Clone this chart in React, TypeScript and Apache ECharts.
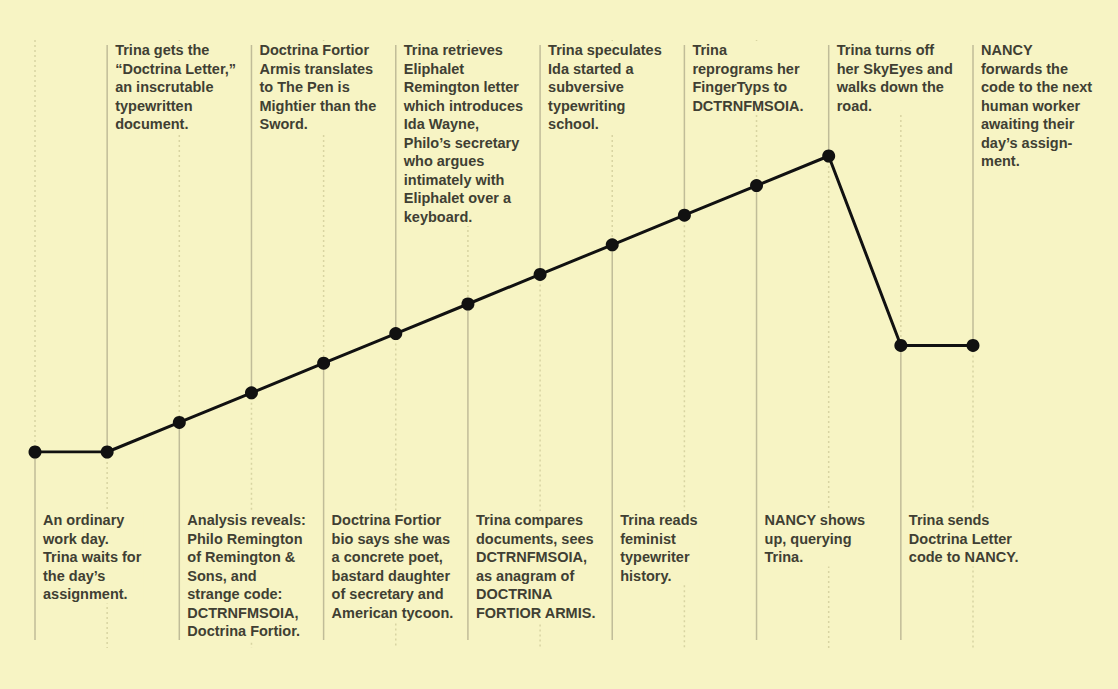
import React, { useEffect, useRef } from 'react';
import * as echarts from 'echarts';

// Story steps (category axis)
const steps = ['1', '2', '3', '4', '5', '6', '7', '8', '9', '10', '11', '12', '13', '14'];

// Narrative tension level at each step
const tension = [0, 0, 1, 2, 3, 4, 5, 6, 7, 8, 9, 10, 3.6, 3.6];

// Where each note sits relative to the line
const placement = ['below', 'above', 'below', 'above', 'below', 'above', 'below', 'above', 'below', 'above', 'below', 'above', 'below', 'above'];

// Annotation texts
const notes = [
  'An ordinary\nwork day.\nTrina waits for\nthe day\u2019s\nassignment.',
  'Trina gets the\n\u201cDoctrina Letter,\u201d\nan inscrutable\ntypewritten\ndocument.',
  'Analysis reveals:\nPhilo Remington\nof Remington &\nSons, and\nstrange code:\nDCTRNFMSOIA,\nDoctrina Fortior.',
  'Doctrina Fortior\nArmis translates\nto The Pen is\nMightier than the\nSword.',
  'Doctrina Fortior\nbio says she was\na concrete poet,\nbastard daughter\nof secretary and\nAmerican tycoon.',
  'Trina retrieves\nEliphalet\nRemington letter\nwhich introduces\nIda Wayne,\nPhilo\u2019s secretary\nwho argues\nintimately with\nEliphalet over a\nkeyboard.',
  'Trina compares\ndocuments, sees\nDCTRNFMSOIA,\nas anagram of\nDOCTRINA\nFORTIOR ARMIS.',
  'Trina speculates\nIda started a\nsubversive\ntypewriting\nschool.',
  'Trina reads\nfeminist\ntypewriter\nhistory.',
  'Trina\nreprograms her\nFingerTyps to\nDCTRNFMSOIA.',
  'NANCY shows\nup, querying\nTrina.',
  'Trina turns off\nher SkyEyes and\nwalks down the\nroad.',
  'Trina sends\nDoctrina Letter\ncode to NANCY.',
  'NANCY\nforwards the\ncode to the next\nhuman worker\nawaiting their\nday\u2019s assign-\nment.',
];

export default function App() {
  const ref = useRef<HTMLDivElement>(null);

  useEffect(() => {
    const chart = echarts.init(ref.current as HTMLDivElement, null, { renderer: 'svg' });
    const BG = '#f7f4c4';
    const FONT = '"Liberation Sans", Arial, sans-serif';
    const TOP_TEXT = 41;
    const BOTTOM_TEXT = 511;
    const DOT_TOP = 40;
    const DOT_BOTTOM = 648;
    const SOLID_TOP = 45;
    const SOLID_BOTTOM = 640;
    const items = steps.map((_, i) => [i, tension[i]]);

    chart.setOption({
      animation: false,
      backgroundColor: BG,
      grid: { left: 35, right: 145, top: 156, bottom: 237 },
      xAxis: { type: 'category', data: steps, boundaryGap: false, show: false },
      yAxis: { type: 'value', min: 0, max: 10, show: false },
      series: [
        {
          type: 'custom',
          z: 1,
          silent: true,
          data: items,
          renderItem: (params: any, api: any) => {
            const i = api.value(0);
            const p = api.coord([i, api.value(1)]);
            const up = placement[i] === 'above';
            return {
              type: 'group',
              children: [
                {
                  type: 'line',
                  shape: up
                    ? { x1: p[0], y1: p[1], x2: p[0], y2: DOT_BOTTOM }
                    : { x1: p[0], y1: DOT_TOP, x2: p[0], y2: p[1] },
                  style: { stroke: '#d8d4a2', lineWidth: 1.5, lineDash: [2, 3] },
                },
                {
                  type: 'line',
                  shape: up
                    ? { x1: p[0], y1: SOLID_TOP, x2: p[0], y2: p[1] }
                    : { x1: p[0], y1: p[1], x2: p[0], y2: SOLID_BOTTOM },
                  style: { stroke: '#c0bc98', lineWidth: 1.5 },
                },
              ],
            };
          },
        },
        {
          type: 'custom',
          z: 2,
          silent: true,
          data: items,
          renderItem: (params: any, api: any) => {
            const i = api.value(0);
            const p = api.coord([i, api.value(1)]);
            const up = placement[i] === 'above';
            return {
              type: 'text',
              x: p[0] + 6,
              y: up ? TOP_TEXT : BOTTOM_TEXT,
              style: {
                text: notes[i],
                fill: '#403f33',
                fontFamily: FONT,
                fontWeight: 'bold',
                fontSize: 14.5,
                lineHeight: 18.5,
                align: 'left',
                verticalAlign: 'top',
                backgroundColor: BG,
                padding: [0, 2, 0, 2],
              },
            };
          },
        },
        {
          type: 'line',
          z: 3,
          data: tension,
          symbol: 'circle',
          symbolSize: 13,
          itemStyle: { color: '#111111' },
          lineStyle: { color: '#111111', width: 3 },
          silent: true,
        },
      ],
    });

    return () => chart.dispose();
  }, []);

  return (
    <div
      ref={ref}
      style={{ position: 'absolute', left: 0, top: 0, width: 1118, height: 689, background: '#f7f4c4' }}
    />
  );
}
